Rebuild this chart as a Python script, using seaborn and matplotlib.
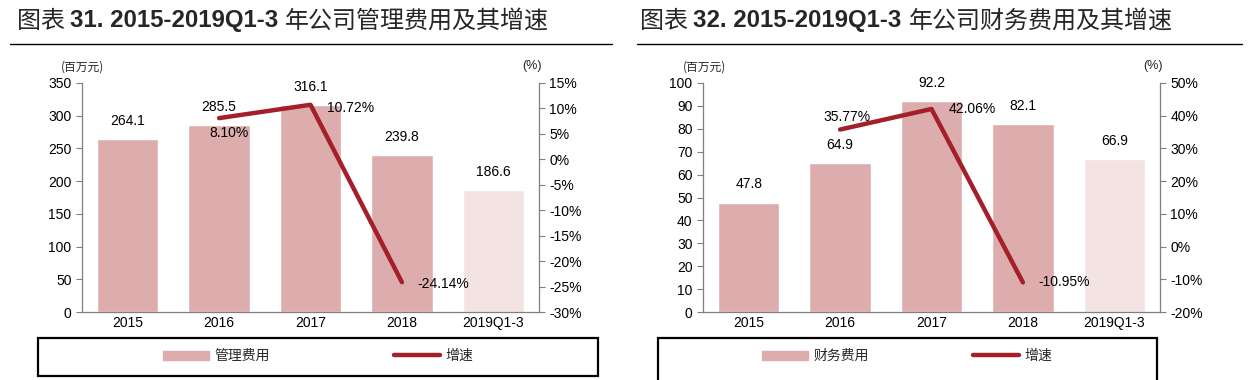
import numpy as np
import pandas as pd
import matplotlib
matplotlib.use("Agg")
import matplotlib.pyplot as plt
import seaborn as sns
from matplotlib.lines import Line2D
from matplotlib.patches import Rectangle
from matplotlib.ticker import FuncFormatter, MultipleLocator

sns.set_theme(style="white")
plt.rcParams['font.family'] = ['Liberation Sans', 'Noto Sans CJK SC']
plt.rcParams['axes.unicode_minus'] = False

years = ["2015", "2016", "2017", "2018", "2019Q1-3"]

admin_cost = [264.1, 285.5, 316.1, 239.8, 186.6]
admin_growth = [np.nan, 8.10, 10.72, -24.14, np.nan]

fin_cost = [47.8, 64.9, 92.2, 82.1, 66.9]
fin_growth = [np.nan, 35.77, 42.06, -10.95, np.nan]

BAR = "#DDADAD"
BAR_LIGHT = "#F3E3E3"
LINE = "#A31F2A"
SPINE = "#7F7F7F"

fig = plt.figure(figsize=(12.5, 3.8), dpi=100)
W, H = 1250, 380


def px(x0, y0, x1, y1):
    # pixel box (top-left origin) -> figure fraction rect
    return [x0 / W, 1 - y1 / H, (x1 - x0) / W, (y1 - y0) / H]


def title(x, y, parts):
    r = fig.canvas.get_renderer()
    for txt, kw in parts:
        t = fig.text(x / W, 1 - y / H, txt, va="center", ha="left", fontsize=17.3, **kw)
        bb = t.get_window_extent(r)
        x += bb.width


def panel(box, cost, growth, ylim, ystep, glim, gstep, name_lbl, growth_offsets,
          title_no, title_tail, tx, rule, legend_box, colsp, unit_x):
    ax = fig.add_axes(px(*box))
    df = pd.DataFrame({"year": years, "cost": cost, "growth": growth})
    colors = [BAR] * 4 + [BAR_LIGHT]
    sns.barplot(data=df, x="year", y="cost", hue="year", palette=colors,
                legend=False, width=0.67, saturation=1, ax=ax)
    ax.set_xlim(-0.5, 4.5)
    ax.set_ylim(*ylim)
    ax.yaxis.set_major_locator(MultipleLocator(ystep))
    ax.set_xlabel("")
    ax.set_ylabel("")
    for i, v in enumerate(cost):
        ax.annotate(f"{v:.1f}", (i, v), xytext=(0, 13), textcoords="offset points",
                    ha="center", va="center", fontsize=10, color="black")

    ax2 = ax.twinx()
    gdf = pd.DataFrame({"pos": np.arange(len(years)), "growth": growth}).dropna()
    sns.lineplot(data=gdf, x="pos", y="growth", color=LINE, linewidth=3.2,
                 solid_capstyle="round", ax=ax2)
    ax2.set_ylim(*glim)
    ax2.yaxis.set_major_locator(MultipleLocator(gstep))
    ax2.yaxis.set_major_formatter(FuncFormatter(lambda v, p: f"{v:.0f}%"))
    ax2.set_ylabel("")
    ax2.set_xlabel("")
    for (i, g), (dx, dy) in zip(gdf.itertuples(index=False), growth_offsets):
        ax2.annotate(f"{g:.2f}%", (i, g), xytext=(dx, dy), textcoords="offset points",
                     ha="center", va="center", fontsize=10, color="black")

    for a in (ax, ax2):
        for s in a.spines.values():
            s.set_visible(False)
        a.tick_params(labelsize=10, colors="black", length=4, width=0.8)
        a.grid(False)
    ax.spines["left"].set_visible(True)
    ax.spines["bottom"].set_visible(True)
    ax2.spines["right"].set_visible(True)
    for s in (ax.spines["left"], ax.spines["bottom"], ax2.spines["right"]):
        s.set_color(SPINE)
        s.set_linewidth(0.9)
    ax.tick_params(axis="both", color=SPINE, direction="out")
    ax2.tick_params(axis="y", color=SPINE, direction="out")
    ax.set_xticks(range(len(years)))
    ax.set_xticklabels(years)
    ax.tick_params(axis="x", length=0, pad=3)
    ax.set_xticks(np.arange(-0.5, 5, 1), minor=True)
    ax.tick_params(axis="x", which="minor", length=4, color=SPINE, width=0.8)

    fig.text(unit_x[0] / W, 1 - 67 / H, "(百万元)", fontsize=8.5, ha="center", va="center",
             family=["Noto Sans CJK SC"])
    fig.text(unit_x[1] / W, 1 - 66 / H, "(%)", fontsize=9, ha="center", va="center")

    title(tx, 21, [("图表 ", {"family": ["Noto Sans CJK SC"]}),
                   (f"{title_no}. 2015-2019Q1-3 ", {"weight": "bold"}),
                   (title_tail, {"family": ["Noto Sans CJK SC"]})])
    fig.add_artist(Line2D([rule[0] / W, rule[1] / W], [1 - 44 / H] * 2, color="black", lw=1.0))

    x0, y0, x1, y1 = legend_box
    fig.add_artist(Rectangle((x0 / W, 1 - y1 / H), (x1 - x0) / W, (y1 - y0) / H,
                             transform=fig.transFigure, fill=False, ec="black", lw=1.6))
    handles = [Rectangle((0, 0), 1, 1, color=BAR),
               Line2D([0], [0], color=LINE, lw=3.2, solid_capstyle="round")]
    fig.legend(handles, [name_lbl, "增速"], loc="center",
               bbox_to_anchor=((x0 + x1) / 2 / W, 1 - 356 / H),
               ncol=2, frameon=False, handlelength=3.3, handleheight=0.6,
               columnspacing=colsp, handletextpad=0.4, borderpad=0,
               prop={"family": ["Noto Sans CJK SC"], "size": 10})
    return ax


panel((82, 83, 539, 312), admin_cost, admin_growth, (0, 350), 50, (-30, 15), 5,
      "管理费用", [(7, -11), (29, -2), (30, -1)],
      31, "年公司管理费用及其增速", 17, (10, 612), (38, 338, 598, 376), 8.9, (83, 532))

panel((703, 83, 1160, 312), fin_cost, fin_growth, (0, 100), 10, (-20, 50), 10,
      "财务费用", [(5, 9), (29, 0), (30, 0)],
      32, "年公司财务费用及其增速", 640, (637, 1242), (658, 338, 1157, 383), 7.5, (705, 1153))

fig.savefig("out.png", dpi=100)
